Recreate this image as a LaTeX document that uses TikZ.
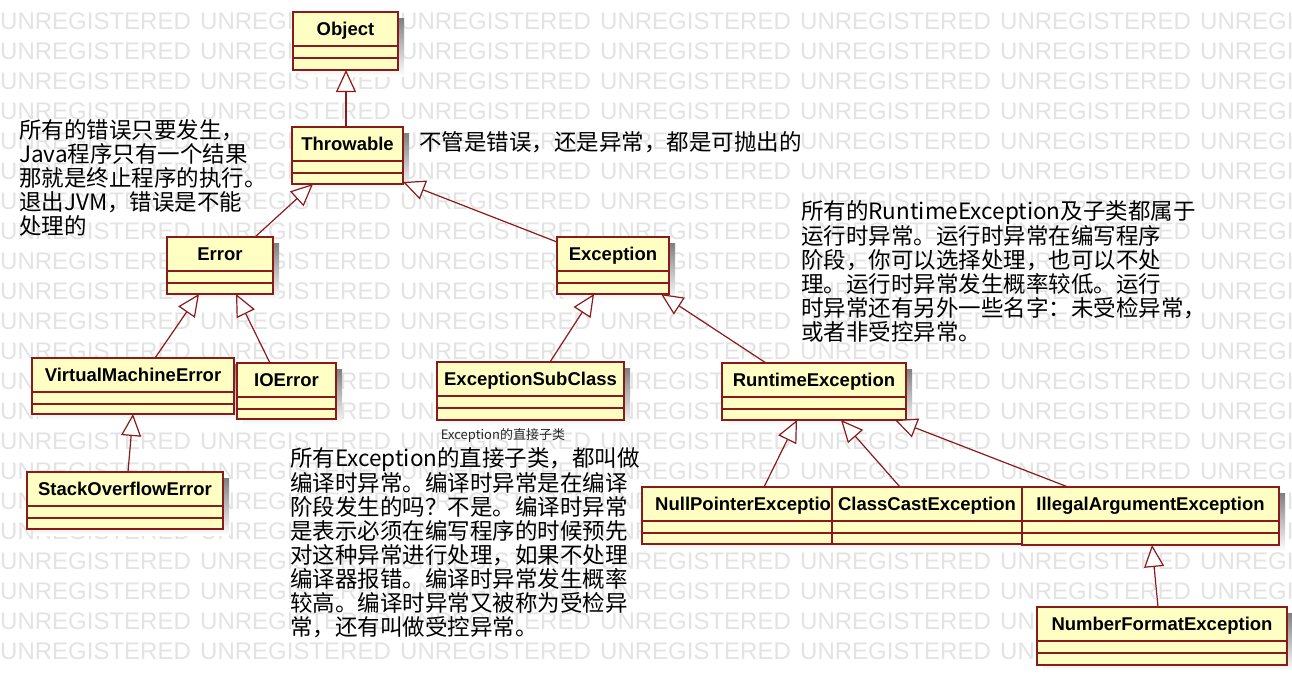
\documentclass[tikz,border=0pt]{standalone}
\usepackage{fontspec}
\setmainfont{Liberation Sans}
\newfontfamily\cjk{Noto Sans CJK SC}
\usetikzlibrary{arrows.meta}
\definecolor{umlfill}{HTML}{FFFFC4}
\definecolor{umlline}{HTML}{8B1A1A}
\definecolor{wmark}{HTML}{E3E3E3}
\definecolor{shade}{HTML}{E8E8E8}
\tikzset{
  wm/.style={font=\fontsize{24}{24}\selectfont, text=wmark, inner sep=0pt, anchor=west},
  cls/.style={draw=umlline, fill=umlfill, line width=1.2pt, rectangle, inner sep=0pt, outer sep=0pt, anchor=north west},
  sep/.style={draw=umlline, line width=1.2pt},
  clsname/.style={font=\fontsize{18.5}{20}\selectfont\bfseries, inner sep=0pt, text=black},
  gen/.style={draw=umlline, line width=1.2pt, -{Triangle[length=22pt, width=20pt, fill=white]}},
  note/.style={font=\cjk\fontsize{22.5}{24}\selectfont, align=left, inner sep=0pt, anchor=north west, text=black},
  smallnote/.style={font=\cjk\fontsize{13}{14}\selectfont, inner sep=0pt, text=black!85}
}
% #1 name, #2 x, #3 y, #4 width, #5 height
\newcommand\umlbody[5]{%
  \fill[shade] (#2+6,#3+6) rectangle (#2+#4+6,#3+#5+6);
  \node[cls, minimum width=#4pt, minimum height=#5pt] (#1) at (#2,#3) {};
  \draw[sep] ([yshift=-34pt]#1.north west) -- ([yshift=-34pt]#1.north east);
  \draw[sep] ([yshift=-46pt]#1.north west) -- ([yshift=-46pt]#1.north east);
}
\newcommand\umlcls[6]{%
  \umlbody{#1}{#2}{#3}{#4}{#5}
  \node[clsname, anchor=base] (#1-n) at ([yshift=-23.5pt]#1.north) {#6};
}
\begin{document}
\begin{tikzpicture}[x=1pt,y=-1pt]
\useasboundingbox (0,0) rectangle (1292,673);
\fill[white] (0,0) rectangle (1292,673);
% watermark
\foreach \r in {0,...,21}{
  \foreach \c in {0,...,6}{
    \node[wm] (wm-\r-\c) at (200*\c, 21+30*\r) {UNREGISTERED};
  }
}
% classes
\umlcls{obj}{293}{12}{105}{58}{Object}
\umlcls{thr}{292}{127}{111}{57}{Throwable}
\umlcls{err}{167}{237}{106}{57}{Error}
\umlcls{vme}{32}{358}{202}{56}{VirtualMachineError}
\umlcls{ioe}{237}{363}{99}{56}{IOError}
\umlcls{soe}{27}{472}{196}{57}{StackOverflowError}
\umlcls{exc}{557}{237}{112}{57}{Exception}
\umlcls{esc}{437}{362}{187}{58}{ExceptionSubClass}
\umlcls{rte}{722}{363}{184}{57}{RuntimeException}
\umlbody{npe}{642}{487}{190}{57}
\node[clsname, anchor=base west] (npe-n) at ([xshift=13pt,yshift=-23.5pt]npe.north west) {NullPointerExceptio};
\umlcls{cce}{832}{487}{190}{57}{ClassCastException}
\umlcls{iae}{1022}{487}{257}{58}{IllegalArgumentException}
\umlcls{nfe}{1037}{607}{250}{58}{NumberFormatException}
% generalizations
\draw[gen] ([xshift=54pt]thr.north west) -- ([xshift=53pt]obj.south west);
\draw[gen] ([xshift=88pt]err.north west) -- ([xshift=21pt]thr.south west);
\draw[gen] ([yshift=-5pt]exc.north west) -- ([yshift=2pt]thr.south east);
\draw[gen] ([xshift=123pt]vme.north west) -- ([xshift=32pt]err.south west);
\draw[gen] ([xshift=33pt]ioe.north west) -- ([xshift=69pt]err.south west);
\draw[gen] ([xshift=101pt]soe.north west) -- ([xshift=101pt]vme.south west);
\draw[gen] ([xshift=113pt]esc.north west) -- ([xshift=37pt]exc.south west);
\draw[gen] ([xshift=44pt]rte.north west) -- ([xshift=104pt]exc.south west);
\draw[gen] ([xshift=122pt]npe.north west) -- ([xshift=75pt]rte.south west);
\draw[gen] ([xshift=68pt]cce.north west) -- ([xshift=119pt]rte.south west);
\draw[gen] ([xshift=46pt]iae.north west) -- ([xshift=173pt]rte.south west);
\draw[gen] ([xshift=121pt]nfe.north west) -- ([xshift=130pt]iae.south west);
% notes
\node[note] (n1) at (19,119.5) {所有的错误只要发生，\\Java程序只有一个结果\\那就是终止程序的执行。\\退出JVM，错误是不能\\处理的};
\node[note] (n2) at (419,131.5) {不管是错误，还是异常，都是可抛出的};
\node[note] (n3) at (801,200.5) {所有的RuntimeException及子类都属于\\运行时异常。运行时异常在编写程序\\阶段，你可以选择处理，也可以不处\\理。运行时异常发生概率较低。运行\\时异常还有另外一些名字：未受检异常，\\或者非受控异常。};
\node[note] (n4) at (290,447.5) {所有Exception的直接子类，都叫做\\编译时异常。编译时异常是在编译\\阶段发生的吗？不是。编译时异常\\是表示必须在编写程序的时候预先\\对这种异常进行处理，如果不处理\\编译器报错。编译时异常发生概率\\较高。编译时异常又被称为受检异\\常，还有叫做受控异常。};
\node[smallnote] (lbl) at (503,435) {Exception的直接子类};
\end{tikzpicture}
\end{document}
